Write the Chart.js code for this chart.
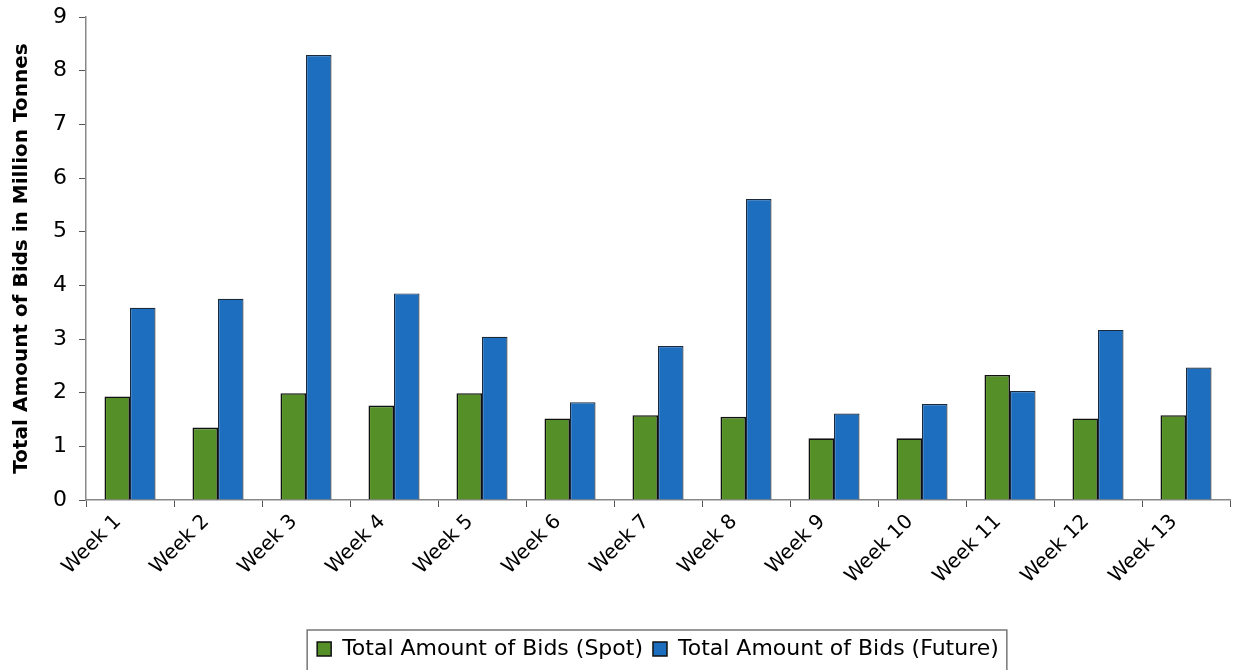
<!DOCTYPE html>
<html>
<head>
<meta charset="utf-8">
<script src="https://cdn.jsdelivr.net/npm/chart.js@4"></script>
<style>
  html, body { margin: 0; padding: 0; background: #fff; }
  #wrap { width: 1234px; height: 670px; }
</style>
</head>
<body>
<div id="wrap"><canvas id="chart" width="1234" height="670"></canvas></div>
<script>
const weeks = ['Week 1','Week 2','Week 3','Week 4','Week 5','Week 6','Week 7','Week 8','Week 9','Week 10','Week 11','Week 12','Week 13'];
const spotBids   = [1.93, 1.35, 1.99, 1.76, 1.99, 1.52, 1.58, 1.55, 1.15, 1.15, 2.33, 1.52, 1.58];
const futureBids = [3.58, 3.75, 8.29, 3.85, 3.04, 1.82, 2.87, 5.61, 1.61, 1.79, 2.03, 3.17, 2.47];
const yTicks = [0,1,2,3,4,5,6,7,8,9];

const FONT = "'DejaVu Sans', Verdana, sans-serif";

// draws the frame around the legend
const legendFrame = {
  id: 'legendFrame',
  afterDraw(chart){
    const lg = chart.legend;
    if(!lg || !lg.legendHitBoxes.length) return;
    const boxes = lg.legendHitBoxes;
    const x0 = boxes[0].left - 10;
    const last = boxes[boxes.length-1];
    const x1 = last.left + last.width + 8;
    const ctx = chart.ctx;
    ctx.save();
    ctx.strokeStyle = '#777';
    ctx.lineWidth = 1.5;
    ctx.strokeRect(x0, lg.top + 2, x1 - x0, lg.bottom - lg.top + 6);
    ctx.restore();
  }
};

const ctx = document.getElementById('chart').getContext('2d');
new Chart(ctx, {
  type: 'bar',
  data: {
    labels: weeks,
    datasets: [{
      label: 'Total Amount of Bids (Spot)',
      data: spotBids,
      backgroundColor: '#558f27',
      borderColor: '#111',
      borderWidth: 1.6,
      barPercentage: 1,
      categoryPercentage: 0.58
    }, {
      label: 'Total Amount of Bids (Future)',
      data: futureBids,
      backgroundColor: '#1e6ec0',
      borderColor: '#1a2a3a',
      borderWidth: 1.2,
      barPercentage: 1,
      categoryPercentage: 0.58
    }]
  },
  options: {
    responsive: false,
    animation: false,
    layout: { padding: { top: 17, right: 4, left: 0, bottom: 0 } },
    plugins: {
      tooltip: { enabled: false },
      legend: {
        position: 'bottom',
        fullSize: false,
        labels: {
          color: '#000',
          font: { family: FONT, size: 22 },
          boxWidth: 14,
          boxHeight: 14,
          padding: 10,
          generateLabels(chart){
            return chart.data.datasets.map((ds, i) => ({
              text: ds.label,
              fillStyle: ds.backgroundColor,
              strokeStyle: '#111',
              lineWidth: 1.5,
              datasetIndex: i,
              hidden: false
            }));
          }
        }
      }
    },
    scales: {
      x: {
        border: { color: '#888', width: 1.5 },
        grid: { drawOnChartArea: false, color: '#555', tickLength: 7, offset: true },
        ticks: {
          color: '#000',
          font: { family: FONT, size: 20 },
          minRotation: 45,
          maxRotation: 45,
          labelOffset: -12
        },
        afterFit(scale){ scale.height = 128; }
      },
      y: {
        min: 0,
        max: 9,
        afterBuildTicks(scale){ scale.ticks = yTicks.map(v => ({ value: v })); },
        border: { color: '#888', width: 1.5 },
        grid: { drawOnChartArea: false, color: '#555', tickLength: 7 },
        ticks: {
          color: '#000',
          font: { family: FONT, size: 22 },
          padding: 12
        },
        title: {
          display: true,
          text: 'Total Amount of Bids in Million Tonnes',
          color: '#000',
          font: { family: FONT, size: 20, weight: 'bold' },
          padding: { top: 10, bottom: 0 }
        },
        afterFit(scale){
          scale.width = 86;
          scale.paddingTop = 0;
          scale.paddingBottom = 0;
        }
      }
    }
  },
  plugins: [legendFrame]
});
</script>
</body>
</html>
